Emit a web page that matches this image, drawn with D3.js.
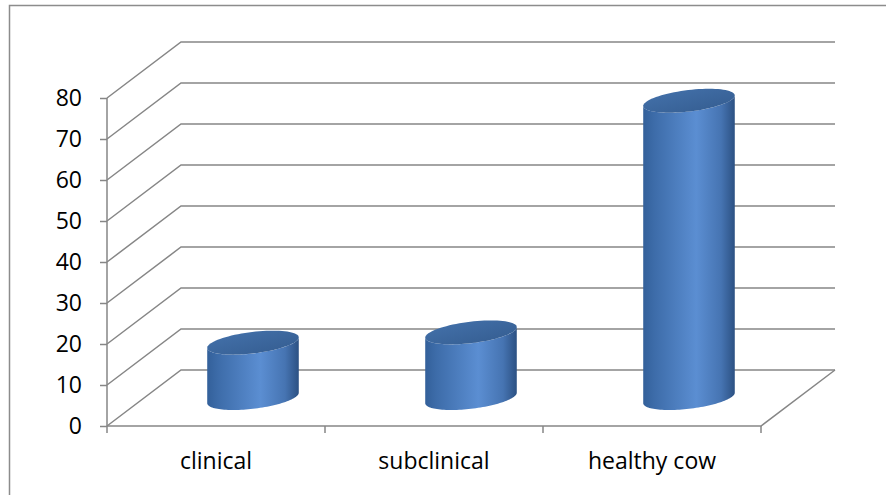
<!DOCTYPE html>
<html>
<head>
<meta charset="utf-8">
<script src="https://cdn.jsdelivr.net/npm/d3@7"></script>
<style>
  html, body { margin: 0; padding: 0; background: #fff; }
  svg { display: block; }
</style>
</head>
<body>
<svg id="chart" width="886" height="495"></svg>
<script>
// data
const categories = ["clinical", "subclinical", "healthy cow"];
const values = [13.5, 16, 72.5];
const yTicks = [0, 10, 20, 30, 40, 50, 60, 70, 80];

const width = 886, height = 495;
const svg = d3.select("#chart");

// plot box (front plane) and the depth offset of the back wall
const front = { left: 107, right: 761, top: 98, bottom: 426 };
const depth = { dx: 74, dy: -56 };
const axisColor = "#868686";
const font = "'Open Sans', 'Liberation Sans', sans-serif";

// outer frame
svg.append("rect")
  .attr("x", 9.5).attr("y", 5.5)
  .attr("width", width + 20).attr("height", height + 20)
  .attr("fill", "#fff")
  .attr("stroke", "#8c8c8c")
  .attr("stroke-width", 1.5);

// scales
const y = d3.scaleLinear().domain([0, 80]).range([front.bottom, front.top]);
const x = d3.scaleBand()
  .domain(categories)
  .range([front.left, front.right])
  .paddingInner(0.58)
  .paddingOuter(0.29);

// gradients
const defs = svg.append("defs");
const bodyGrad = defs.append("linearGradient").attr("id", "cylBody")
  .attr("x1", "0%").attr("x2", "100%").attr("y1", "0%").attr("y2", "0%");
[["0%", "#33609a"], ["12%", "#3d6ca9"], ["58%", "#5b8ed2"], ["85%", "#4674b2"], ["100%", "#2c5183"]]
  .forEach(s => bodyGrad.append("stop").attr("offset", s[0]).attr("stop-color", s[1]));
const topGrad = defs.append("linearGradient").attr("id", "cylTop")
  .attr("x1", "0%").attr("x2", "100%").attr("y1", "0%").attr("y2", "100%");
[["0%", "#4573ad"], ["100%", "#335b8e"]]
  .forEach(s => topGrad.append("stop").attr("offset", s[0]).attr("stop-color", s[1]));

// walls: gridlines with their receding diagonals
const grid = svg.append("g")
  .attr("stroke", axisColor)
  .attr("stroke-width", 1.5)
  .attr("fill", "none");

yTicks.forEach(t => {
  const yf = y(t);
  grid.append("path")
    .attr("d", `M${front.left},${yf} L${front.left + depth.dx},${yf + depth.dy} L${front.right + depth.dx},${yf + depth.dy}`);
});

// floor: front edge and right receding edge
grid.append("path")
  .attr("d", `M${front.left},${y(0)} L${front.right},${y(0)} L${front.right + depth.dx},${y(0) + depth.dy}`);

// value axis
const yAxis = svg.append("g")
  .attr("transform", `translate(${front.left},0)`)
  .call(d3.axisLeft(y).tickValues(yTicks).tickSize(7).tickPadding(18).tickSizeOuter(0));
yAxis.select(".domain").attr("stroke", axisColor).attr("stroke-width", 1.5)
  .attr("d", `M0,${front.top}V${front.bottom}`);
yAxis.selectAll(".tick line").attr("stroke", axisColor).attr("stroke-width", 1.5);
yAxis.selectAll("text")
  .attr("fill", "#000")
  .attr("font-family", font)
  .attr("font-size", "23px");

// category boundary ticks
const bounds = [front.left].concat(categories.map(c => x(c) + x.bandwidth() / 2 + x.step() / 2));
svg.append("g").selectAll("line")
  .data(bounds)
  .join("line")
    .attr("x1", d => d).attr("x2", d => d)
    .attr("y1", y(0)).attr("y2", y(0) + 7)
    .attr("stroke", axisColor)
    .attr("stroke-width", 1.5);

// category labels
svg.append("g").selectAll("text")
  .data(categories)
  .join("text")
    .attr("x", d => x(d) + x.bandwidth() / 2)
    .attr("y", 469)
    .attr("text-anchor", "middle")
    .attr("font-family", font)
    .attr("font-size", "23px")
    .attr("fill", "#000")
    .text(d => d);

// cylinders, placed at half depth
const halfW = x.bandwidth() / 2;
const vx = 20, vy = -12;                  // depth radius of the ellipse
const ax = Math.sqrt(halfW * halfW - vx * vx);
const thR = Math.atan2(vx, ax);
const line = d3.line();

function ellipsePts(cx, cy, from, to, n) {
  return d3.range(n + 1).map(i => {
    const t = from + (to - from) * i / n;
    return [cx + ax * Math.cos(t) + vx * Math.sin(t), cy + vy * Math.sin(t)];
  });
}

const bars = svg.append("g");
categories.forEach((c, i) => {
  const cx = x(c) + halfW + depth.dx / 2;
  const yBase = y(0) + depth.dy / 2;
  const yTop = y(values[i]) + depth.dy / 2;

  const topFront = ellipsePts(cx, yTop, thR - Math.PI, thR, 60);
  const botFront = ellipsePts(cx, yBase, thR, thR - Math.PI, 60);
  bars.append("path")
    .attr("d", line(topFront.concat(botFront)) + "Z")
    .attr("fill", "url(#cylBody)");

  bars.append("path")
    .attr("d", line(ellipsePts(cx, yTop, 0, 2 * Math.PI, 80)) + "Z")
    .attr("fill", "url(#cylTop)");
});
</script>
</body>
</html>
